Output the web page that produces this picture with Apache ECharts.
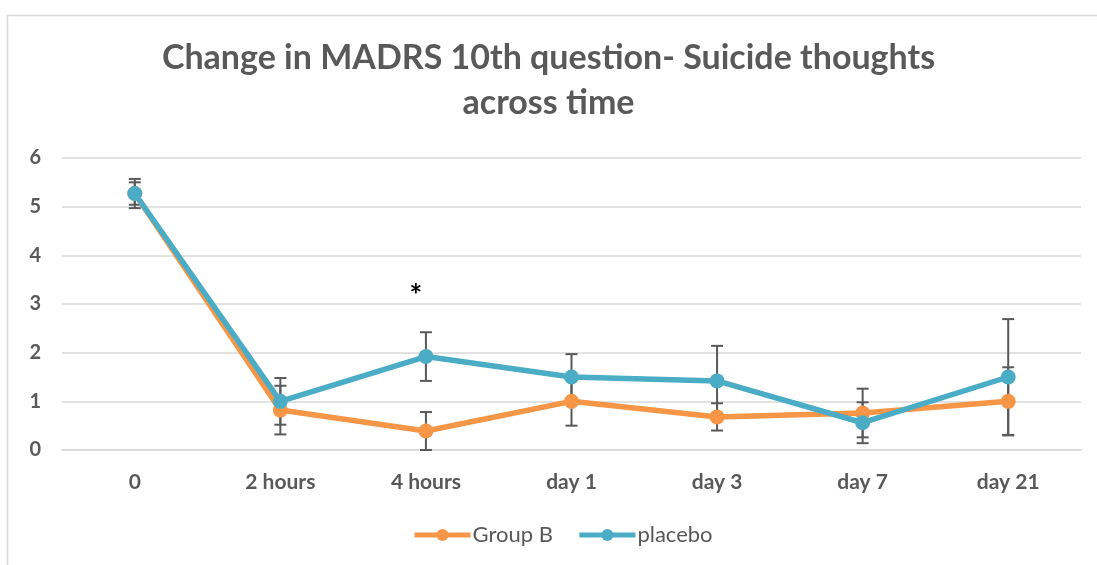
<!DOCTYPE html>
<html>
<head>
<meta charset="utf-8">
<script src="https://cdn.jsdelivr.net/npm/echarts@6/dist/echarts.min.js"></script>
<style>
  html, body { margin: 0; padding: 0; background: #fff; }
  #main { width: 1097px; height: 565px; }
</style>
</head>
<body>
<div id="main"></div>
<script>
const categories = ['0', '2 hours', '4 hours', 'day 1', 'day 3', 'day 7', 'day 21'];
const groupB = [5.27, 0.82, 0.39, 1.0, 0.68, 0.76, 1.0];
const placebo = [5.27, 1.0, 1.92, 1.5, 1.42, 0.56, 1.5];
const groupBErr = [0.23, 0.5, 0.39, 0.5, 0.28, 0.5, 0.7];
const placeboErr = [0.3, 0.48, 0.5, 0.47, 0.72, 0.42, 1.19];
const yTicks = [0, 1, 2, 3, 4, 5, 6];

const textGray = '#595959';
const orange = '#F79646';
const blue = '#4BACC6';

const dom = document.getElementById('main');
const myChart = echarts.init(dom);

function errorData(values, errs) {
  return values.map((v, i) => [i, v, errs[i]]);
}

// vertical bar with caps, positions from the axis scale
function renderErrorBar(params, api) {
  const i = api.value(0);
  const v = api.value(1);
  const e = api.value(2);
  const top = api.coord([i, v + e]);
  const bottom = api.coord([i, Math.max(v - e, 0)]);
  const cap = 6;
  const style = { stroke: textGray, lineWidth: 2 };
  return {
    type: 'group',
    children: [
      { type: 'line', shape: { x1: top[0], y1: top[1], x2: bottom[0], y2: bottom[1] }, style },
      { type: 'line', shape: { x1: top[0] - cap, y1: top[1], x2: top[0] + cap, y2: top[1] }, style },
      { type: 'line', shape: { x1: bottom[0] - cap, y1: bottom[1], x2: bottom[0] + cap, y2: bottom[1] }, style },
    ],
  };
}

const options = {
  animation: false,
  graphic: [
    {
      type: 'rect',
      left: 5,
      top: 13,
      shape: { width: 1200, height: 700 },
      style: { fill: 'none', stroke: '#d9d9d9', lineWidth: 1.5 },
      silent: true,
    },
  ],
  title: {
    text: 'Change in MADRS 10th question- Suicide thoughts\nacross time',
    left: 'center',
    top: 31,
    textStyle: {
      fontFamily: 'Lato',
      fontWeight: 'bold',
      fontSize: 34,
      lineHeight: 45,
      color: textGray,
    },
  },
  legend: {
    bottom: 14,
    left: 407,
    itemWidth: 56,
    itemHeight: 15,
    itemGap: 24,
    data: ['Group B', 'placebo'],
    lineStyle: { width: 5 },
    textStyle: { fontFamily: 'Lato', fontSize: 22, color: textGray, padding: [0, 0, 0, -3] },
  },
  grid: {
    left: 62,
    right: 16,
    top: 158,
    bottom: 115,
  },
  xAxis: {
    type: 'category',
    data: categories,
    boundaryGap: true,
    axisLine: { show: true, lineStyle: { color: '#d9d9d9', width: 1.5 } },
    axisTick: { show: false },
    axisLabel: {
      margin: 22,
      fontFamily: 'Lato',
      fontWeight: 'bold',
      fontSize: 21,
      color: textGray,
    },
  },
  yAxis: {
    type: 'value',
    min: yTicks[0],
    max: yTicks[yTicks.length - 1],
    interval: 1,
    axisLine: { show: false },
    axisTick: { show: false },
    splitLine: { lineStyle: { color: '#d9d9d9', width: 1.5 } },
    axisLabel: {
      margin: 21,
      fontFamily: 'Lato',
      fontWeight: 'bold',
      fontSize: 20,
      color: textGray,
    },
  },
  series: [
    {
      name: 'Group B err',
      type: 'custom',
      renderItem: renderErrorBar,
      data: errorData(groupB, groupBErr),
      encode: { x: 0, y: 1 },
      z: 1,
      silent: true,
    },
    {
      name: 'placebo err',
      type: 'custom',
      renderItem: renderErrorBar,
      data: errorData(placebo, placeboErr),
      encode: { x: 0, y: 1 },
      z: 1,
      silent: true,
    },
    {
      name: 'Group B',
      type: 'line',
      data: groupB,
      symbol: 'circle',
      symbolSize: 15,
      lineStyle: { color: orange, width: 5.5 },
      itemStyle: { color: orange },
      z: 3,
    },
    {
      name: 'placebo',
      type: 'line',
      data: placebo,
      symbol: 'circle',
      symbolSize: 15,
      lineStyle: { color: blue, width: 5.5 },
      itemStyle: { color: blue },
      z: 4,
      markPoint: {
        symbol: 'circle',
        symbolSize: 0,
        data: [{ coord: ['4 hours', 3.2] }],
        label: {
          show: true,
          formatter: '*',
          position: 'inside',
          offset: [-10, 2],
          color: '#000',
          fontSize: 30,
          fontWeight: 'bold',
          fontFamily: 'Lato',
        },
      },
    },
  ],
};

myChart.setOption(options);
</script>
</body>
</html>
